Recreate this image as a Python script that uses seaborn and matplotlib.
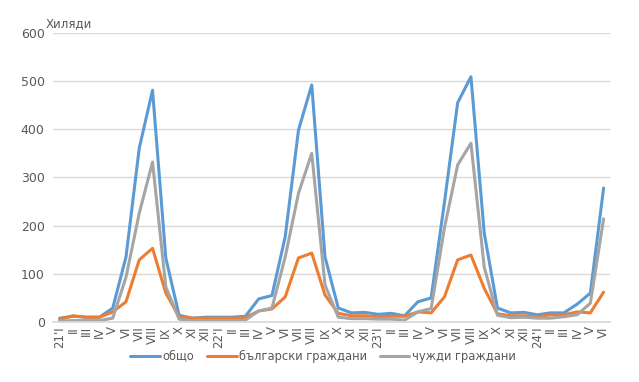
import pandas as pd
import seaborn as sns
import matplotlib.pyplot as plt

# months Jan 2021 - Jun 2024, roman numerals, year prefix on January
MONTHS = ["I", "II", "III", "IV", "V", "VI", "VII", "VIII", "IX", "X", "XI", "XII"]
TICK_LABELS = []
for year in ["21", "22", "23", "24"]:
    for m in MONTHS:
        TICK_LABELS.append(year + "'" + m if m == "I" else m)
TICK_LABELS = TICK_LABELS[:42]

# thousands of tourists
TOTAL = [8, 12, 10, 10, 29, 135, 361, 481, 133, 14, 8, 10,
         10, 10, 12, 48, 55, 177, 398, 492, 135, 29, 19, 20,
         16, 18, 13, 42, 50, 248, 455, 509, 185, 29, 19, 20,
         15, 19, 19, 37, 60, 278]
BULGARIAN = [5, 13, 10, 10, 21, 42, 129, 153, 60, 11, 8, 8,
             8, 8, 9, 23, 27, 52, 133, 143, 56, 18, 13, 13,
             11, 12, 12, 21, 19, 52, 129, 139, 70, 17, 13, 13,
             11, 15, 15, 21, 19, 62]
FOREIGN = [2, 3, 3, 3, 8, 93, 226, 332, 73, 6, 3, 3,
           3, 3, 4, 23, 29, 135, 267, 350, 77, 10, 7, 7,
           6, 6, 4, 21, 28, 195, 326, 371, 114, 14, 9, 10,
           8, 8, 11, 15, 39, 214]

SERIES = ["общо", "български граждани", "чужди граждани"]
COLORS = ["#5B9BD5", "#ED7D31", "#A5A5A5"]

rows = []
for name, values in zip(SERIES, [TOTAL, BULGARIAN, FOREIGN]):
    for i, v in enumerate(values):
        rows.append({"pos": i, "value": v, "series": name})
df = pd.DataFrame(rows)

sns.set_theme(style="white")
plt.rcParams["font.family"] = ["DejaVu Sans"]
text_color = "#595959"

fig = plt.figure(figsize=(6.39, 3.82), dpi=100)
ax = fig.add_axes([0.083, 0.157, 0.872, 0.757])

sns.lineplot(data=df, x="pos", y="value", hue="series", hue_order=SERIES,
             palette=COLORS, linewidth=2.2, ax=ax, legend=True)

ax.set_xlim(-0.5, 41.5)
ax.set_ylim(0, 600)
ax.set_yticks(range(0, 601, 100))
ax.set_xticks(range(len(TICK_LABELS)))
ax.set_xticklabels(TICK_LABELS, rotation=90, fontsize=8.5, color=text_color)
ax.tick_params(axis="y", labelsize=9, labelcolor=text_color, length=0, pad=6)
ax.tick_params(axis="x", length=0, pad=3)
ax.grid(axis="y", color="#D9D9D9", linewidth=1)
ax.set_axisbelow(True)
for side in ["top", "right", "left"]:
    ax.spines[side].set_visible(False)
ax.spines["bottom"].set_color("#D9D9D9")
ax.set_xlabel("")
ax.set_ylabel("")

fig.text(0.072, 0.928, "Хиляди", fontsize=8.5, color=text_color)

handles, labels = ax.get_legend_handles_labels()
ax.get_legend().remove()
fig.legend(handles, labels, loc="center", bbox_to_anchor=(0.505, 0.068),
           ncol=3, frameon=False, fontsize=8.3, handlelength=2.6,
           handletextpad=0.2, columnspacing=1.1, labelcolor=text_color)

fig.savefig("out.png", dpi=100)
